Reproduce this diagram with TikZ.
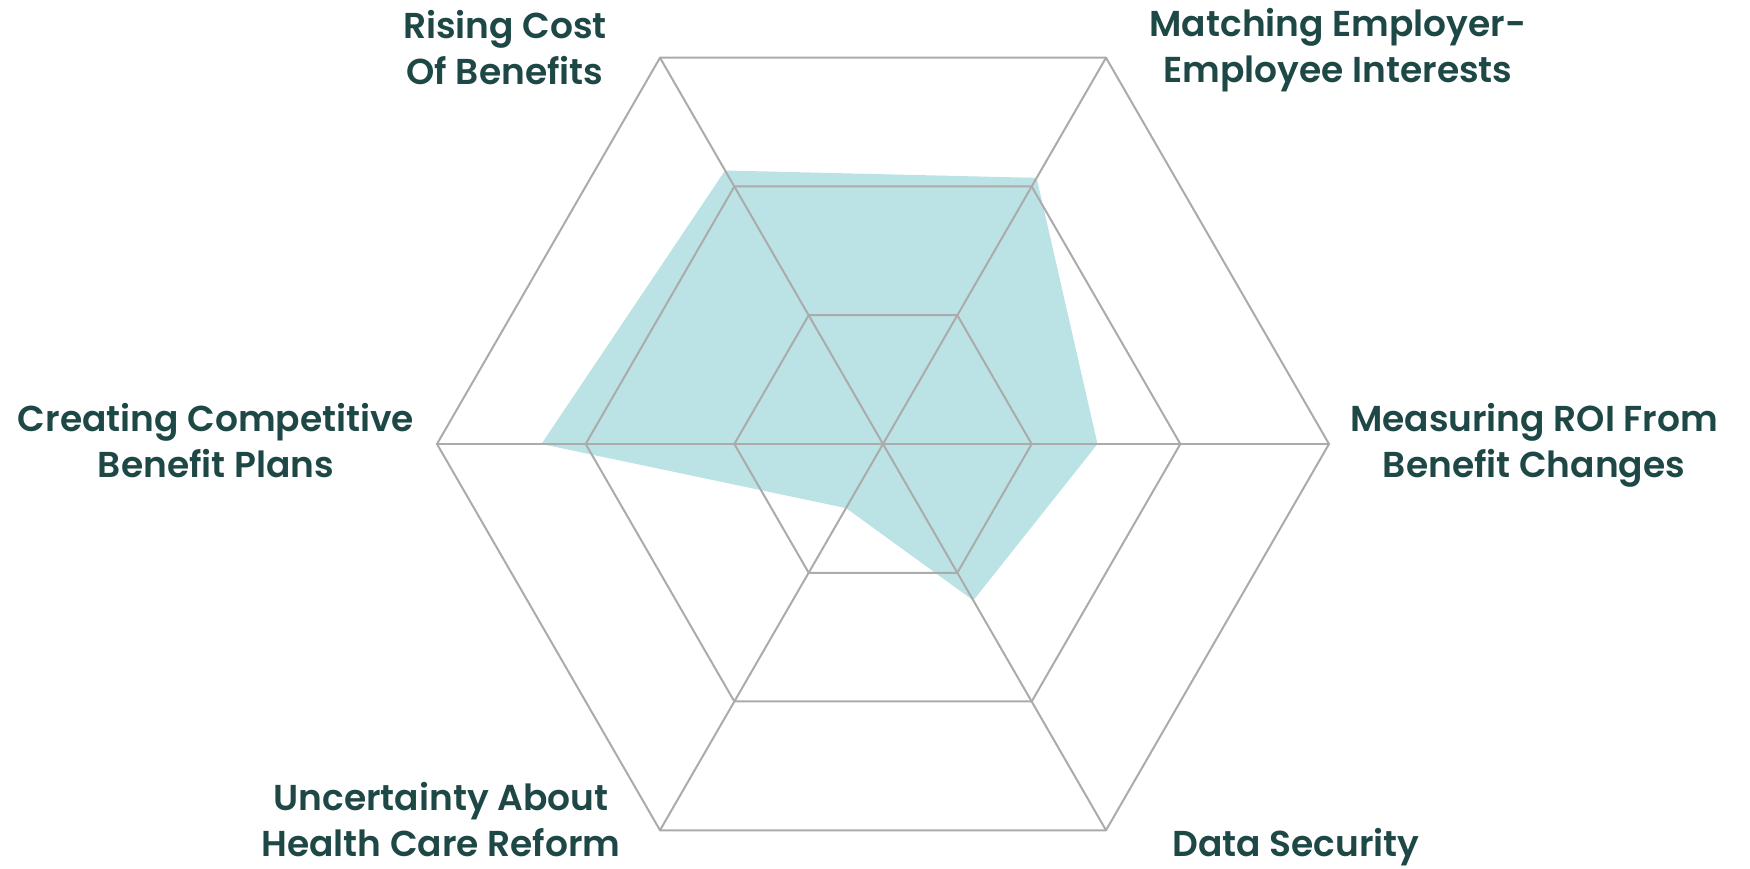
\documentclass[tikz,border=0pt]{standalone}
\usepackage{fontspec}
\usetikzlibrary{calc}
\newfontfamily\lblfont{Poppins SemiBold}
\definecolor{gridgray}{HTML}{ABABAB}
\definecolor{areafill}{HTML}{BBE3E5}
\definecolor{lbltxt}{HTML}{1E4846}
\tikzset{
  gridline/.style={draw=gridgray, line width=2pt, line join=miter},
  datafill/.style={fill=areafill, draw=none},
  lbl/.style={text=lbltxt, font={\lblfont\fontsize{36}{46}\selectfont}, align=center, inner sep=0pt, anchor=base},
}
\begin{document}
\begin{tikzpicture}[x=1pt,y=1pt]
\useasboundingbox (0,0) rectangle (1750,868);
\coordinate (o) at (883,424);
% grid vertices
\foreach \a in {0,60,120,180,240,300}{
  \coordinate (g1-\a) at ($(o)+(\a:148.67)$);
  \coordinate (g2-\a) at ($(o)+(\a:297.33)$);
  \coordinate (g3-\a) at ($(o)+(\a:446)$);
}
% data polygon
\coordinate (d120) at ($(o)+(120:315.8)$);
\coordinate (d60)  at ($(o)+(60:307.3)$);
\coordinate (d0)   at ($(o)+(0:214.5)$);
\coordinate (d300) at ($(o)+(300:180.6)$);
\coordinate (d240) at ($(o)+(240:74)$);
\coordinate (d180) at ($(o)+(180:341.6)$);
\path[datafill] (d120) -- (d60) -- (d0) -- (d300) -- (d240) -- (d180) -- cycle;
% hexagons
\foreach \l in {1,2,3}{
  \draw[gridline] (g\l-0) -- (g\l-60) -- (g\l-120) -- (g\l-180) -- (g\l-240) -- (g\l-300) -- cycle;
}
% spokes
\foreach \a in {0,60,120,180,240,300}{
  \draw[gridline] (o) -- (g3-\a);
}
% labels (base anchor = baseline of the last line)
\node[lbl] (lrise) at (505,783) {Rising Cost\\Of Benefits};
\node[lbl] (lmatch) at (1338,785) {Matching Employer-\\Employee Interests};
\node[lbl] (lcreate) at (216,390) {Creating Competitive\\Benefit Plans};
\node[lbl] (lroi) at (1534,390) {Measuring ROI From\\Benefit Changes};
\node[lbl] (lunc) at (441,12) {Uncertainty About\\Health Care Reform};
\node[lbl] (ldata) at (1296,12) {Data Security};
\end{tikzpicture}
\end{document}
